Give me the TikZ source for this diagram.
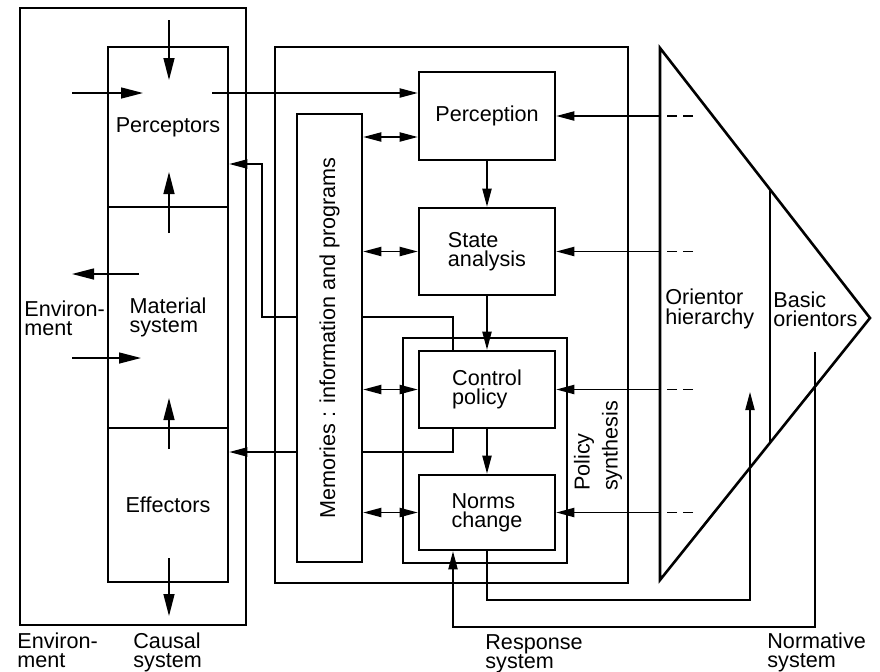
\documentclass[tikz,border=0pt]{standalone}
\usepackage{fontspec}
\setmainfont{Liberation Sans}
\usetikzlibrary{arrows.meta}

\begin{document}
\begin{tikzpicture}[
        x=0.5pt, y=-0.5pt,
        font=\fontsize{10.8}{9.6}\selectfont,
        box/.style = {draw, line width=1.3pt, inner sep=0pt, align=left},
        arr/.style = {line width=0.7pt, -{Triangle[length=9pt, width=4.6pt]}},
        bigarr/.style = {line width=0.7pt, -{Triangle[length=11pt, width=5.5pt]}},
        darr/.style = {line width=0.7pt, {Triangle[length=9pt, width=4.6pt]}-{Triangle[length=9pt, width=4.6pt]}},
        stub/.style = {line width=0.7pt, dash pattern=on 5pt off 3pt on 5pt off 30pt},
        label/.style = {anchor=north west, align=left, inner sep=0pt}
    ]
    \useasboundingbox (0,0) rectangle (880,671);

    % causal system
    \node[box, minimum width=113pt, minimum height=308.5pt] (causal) at (133,316.5) {};
    \node[box, minimum width=60pt, minimum height=80pt] (perceptors) at (168,127) {Perceptors};
    \node[box, minimum width=60pt, minimum height=110.5pt] (material) at (168,317.5) {Material\\system};
    \node[box, minimum width=60pt, minimum height=77pt] (effectors) at (168,505) {Effectors};
    \node[anchor=west, align=left, inner sep=0pt] (envtext) at (24,318) {Environ-\\ment};
    \foreach \i/\xa/\ya/\xb/\yb in {1/169/20/169/80, 2/72/93/143/93, 3/169/233/169/172, 4/139/274/72/274,
            5/72/358/141/358, 6/169/449/169/398, 7/169/558/169/616} {
        \coordinate (f\i) at (\xa,\ya);
        \coordinate (t\i) at (\xb,\yb);
        \draw[bigarr] (f\i) -- (t\i);
    }

    % response system
    \node[box, minimum width=176.5pt, minimum height=268pt] (response) at (451.5,315) {};
    \node[box, minimum width=68pt, minimum height=44pt] (perception) at (487,116) {Perception};
    \node[box, minimum width=68pt, minimum height=43.5pt] (state) at (487,251.5) {State\\analysis};
    \node[box, minimum width=82pt, minimum height=112.5pt] (synthesis) at (485,450.5) {};
    \node[box, minimum width=68pt, minimum height=38.5pt] (control) at (487,389.5) {Control\\policy};
    \node[box, minimum width=68pt, minimum height=37.5pt] (norms) at (487,512.5) {Norms\\change};
    \node[rotate=90, anchor=west, align=left, font=\fontsize{10.8}{14}\selectfont] (synthtext) at (598,498) {Policy\\synthesis};

    \coordinate (pout) at (212,93);
    \draw[arr] (pout) -- (pout -| perception.west);
    \draw[arr] (perception) -- (state);
    \draw[arr] (state) -- (control);
    \draw[arr] (control) -- (norms);

    \coordinate (fbcorner) at (262,317);
    \draw[arr] ([xshift=-17pt]control.north) |- (fbcorner) |- ([yshift=-18.5pt]perceptors.east);
    \draw[arr] ([xshift=-17pt]control.south) |- ([yshift=26.5pt]effectors.east);

    \node[box, fill=white, minimum width=32.5pt, minimum height=224pt] (memory) at (329.5,338) {};
    \node[rotate=90] (memtext) at (memory.center) {Memories : information and programs};
    \draw[darr] ([yshift=-10.5pt]perception.west -| memory.east) -- ([yshift=-10.5pt]perception.west);
    \foreach \b in {state, control, norms}
        \draw[darr] (\b.west -| memory.east) -- (\b.west);

    % normative system
    \coordinate (triT) at (660,48);
    \coordinate (triA) at (870,318);
    \coordinate (triB) at (660,580);
    \draw[line width=1.3pt] (triT) -- (triA) -- (triB) -- cycle;
    \coordinate (basT) at (770,189);
    \coordinate (basB) at (770,443);
    \draw[line width=1.1pt] (basT) -- (basB);
    \node[anchor=west, align=left, inner sep=0pt] (oritext) at (665,309) {Orientor\\hierarchy};
    \node[anchor=west, align=left, inner sep=0pt] (bastext) at (773,309) {Basic\\orientors};

    \foreach \b in {perception, state, control, norms} {
        \draw[stub] ([xshift=16.5pt]\b.east -| triT) -- (\b.east -| triT);
        \draw[arr] (\b.east -| triT) -- (\b.east);
    }

    \coordinate (ncorner) at (750,600);
    \coordinate (nup) at (750,392);
    \draw[arr] (norms.south) |- (ncorner) -- (nup);
    \coordinate (nstop) at (815,352);
    \coordinate (nscorner) at (815,627);
    \draw[arr] (nstop) -- (nscorner) -| ([xshift=-17pt]norms.south);

    % bottom labels
    \node[label] (envlabel) at (17,632) {Environ-\\ment};
    \node[label] (causallabel) at (133,632) {Causal\\system};
    \node[label] (resplabel) at (485,634) {Response\\system};
    \node[label] (normlabel) at (767,632) {Normative\\system};
\end{tikzpicture}
\end{document}
